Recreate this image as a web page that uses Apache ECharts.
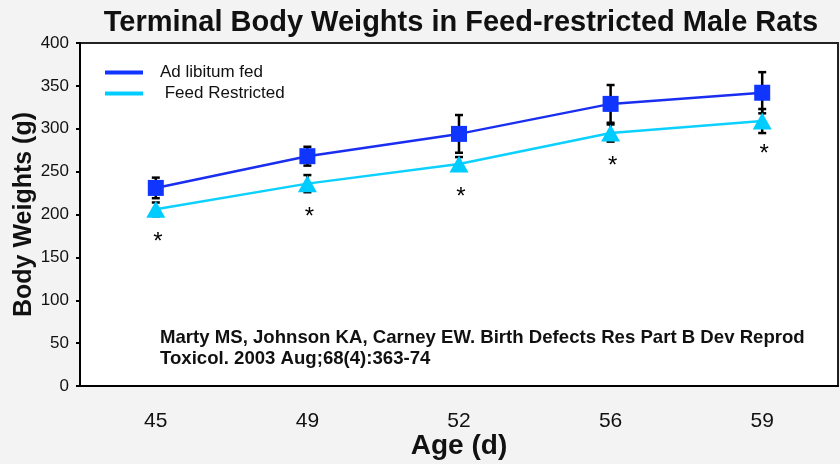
<!DOCTYPE html>
<html>
<head>
<meta charset="utf-8">
<script src="https://cdn.jsdelivr.net/npm/echarts@6/dist/echarts.min.js"></script>
<style>
  html, body { margin: 0; padding: 0; background: #f3f3f3; }
  #main { width: 840px; height: 464px; }
</style>
</head>
<body>
<div id="main"></div>
<script>
// data
var ages = ['45', '49', '52', '56', '59'];
var adLib = [231, 268, 294, 329, 342];
var adLibErr = [12, 11, 22, 22, 24];
var restricted = [206, 236, 259, 295, 309];
var restrictedErr = [8, 10, 8, 10, 14];
var yTicks = [0, 50, 100, 150, 200, 250, 300, 350, 400];

var myChart = echarts.init(document.getElementById('main'));
var fam = 'Liberation Sans, Arial';

function errData(vals, errs) {
    var out = [];
    for (var i = 0; i < vals.length; i++) {
        out.push([i, vals[i] - errs[i], vals[i] + errs[i]]);
    }
    return out;
}

function renderErr(params, api) {
    var lo = api.coord([api.value(0), api.value(1)]);
    var hi = api.coord([api.value(0), api.value(2)]);
    var w = 4;
    var st = { stroke: '#000', lineWidth: 2.5 };
    return {
        type: 'group',
        children: [
            { type: 'line', shape: { x1: hi[0], y1: hi[1], x2: lo[0], y2: lo[1] }, style: st },
            { type: 'line', shape: { x1: hi[0] - w, y1: hi[1], x2: hi[0] + w, y2: hi[1] }, style: st },
            { type: 'line', shape: { x1: lo[0] - w, y1: lo[1], x2: lo[0] + w, y2: lo[1] }, style: st }
        ]
    };
}

var option = {
    backgroundColor: '#f3f3f3',
    animation: false,
    title: {
        text: 'Terminal Body Weights in Feed-restricted Male Rats',
        left: 456,
        textAlign: 'center',
        top: 3,
        textStyle: { fontFamily: fam, fontWeight: 'bold', fontSize: 29, color: '#111' }
    },
    legend: {
        orient: 'vertical',
        left: 100,
        top: 59,
        icon: 'rect',
        itemWidth: 38,
        itemHeight: 4,
        itemGap: 4,
        data: ['Ad libitum fed', 'Feed Restricted'],
        formatter: function (name) {
            return name === 'Feed Restricted' ? ' ' + name : name;
        },
        textStyle: { fontFamily: fam, fontSize: 17, color: '#111', padding: [0, 0, 0, 12] }
    },
    grid: {
        show: true,
        left: 80,
        right: 2,
        top: 43,
        bottom: 78,
        outerBoundsMode: 'none',
        containLabel: false,
        backgroundColor: '#fff',
        borderColor: '#222',
        borderWidth: 2
    },
    xAxis: {
        type: 'category',
        data: ages,
        name: 'Age (d)',
        nameLocation: 'middle',
        nameGap: 46,
        nameMoveOverlap: false,
        nameTextStyle: { fontFamily: fam, fontWeight: 'bold', fontSize: 28, color: '#111' },
        axisLine: { lineStyle: { color: '#000', width: 2 } },
        axisTick: { length: 5, lineStyle: { color: '#000', width: 2 } },
        axisLabel: { fontFamily: fam, fontSize: 21, color: '#111', margin: 25 }
    },
    yAxis: {
        type: 'value',
        min: yTicks[0],
        max: yTicks[yTicks.length - 1],
        interval: yTicks[1] - yTicks[0],
        name: 'Body Weights (g)',
        nameLocation: 'middle',
        nameGap: 43,
        nameMoveOverlap: false,
        nameTextStyle: { fontFamily: fam, fontWeight: 'bold', fontSize: 25, color: '#111' },
        axisLine: { show: true, lineStyle: { color: '#000', width: 2 } },
        axisTick: { show: true, length: 4, lineStyle: { color: '#000', width: 2 } },
        axisLabel: { fontFamily: fam, fontSize: 17, color: '#111', margin: 11 },
        splitLine: { show: false }
    },
    graphic: [{
        type: 'text',
        left: 160,
        top: 327,
        style: {
            text: 'Marty MS, Johnson KA, Carney EW. Birth Defects Res Part B Dev Reprod\nToxicol. 2003 Aug;68(4):363-74',
            font: 'bold 18.6px "Liberation Sans", Arial',
            fill: '#111',
            lineHeight: 21
        }
    }],
    series: [{
        name: 'adErr',
        type: 'custom',
        renderItem: renderErr,
        data: errData(adLib, adLibErr),
        z: 1,
        silent: true
    }, {
        name: 'frErr',
        type: 'custom',
        renderItem: renderErr,
        data: errData(restricted, restrictedErr),
        z: 1,
        silent: true
    }, {
        name: 'Ad libitum fed',
        type: 'line',
        data: adLib,
        symbol: 'rect',
        symbolSize: 16,
        color: '#1035ff',
        lineStyle: { color: '#1a2ef0', width: 2.5 },
        itemStyle: { color: '#1035ff' },
        z: 3
    }, {
        name: 'Feed Restricted',
        type: 'line',
        data: restricted,
        symbol: 'triangle',
        symbolSize: [19, 17],
        color: '#00ccff',
        lineStyle: { color: '#0cd0ff', width: 2.5 },
        itemStyle: { color: '#00ccff' },
        label: {
            show: true,
            position: 'bottom',
            distance: 13,
            offset: [2, 0],
            formatter: '*',
            fontFamily: fam,
            fontSize: 24,
            color: '#000'
        },
        z: 3
    }]
};

myChart.setOption(option);
</script>
</body>
</html>
